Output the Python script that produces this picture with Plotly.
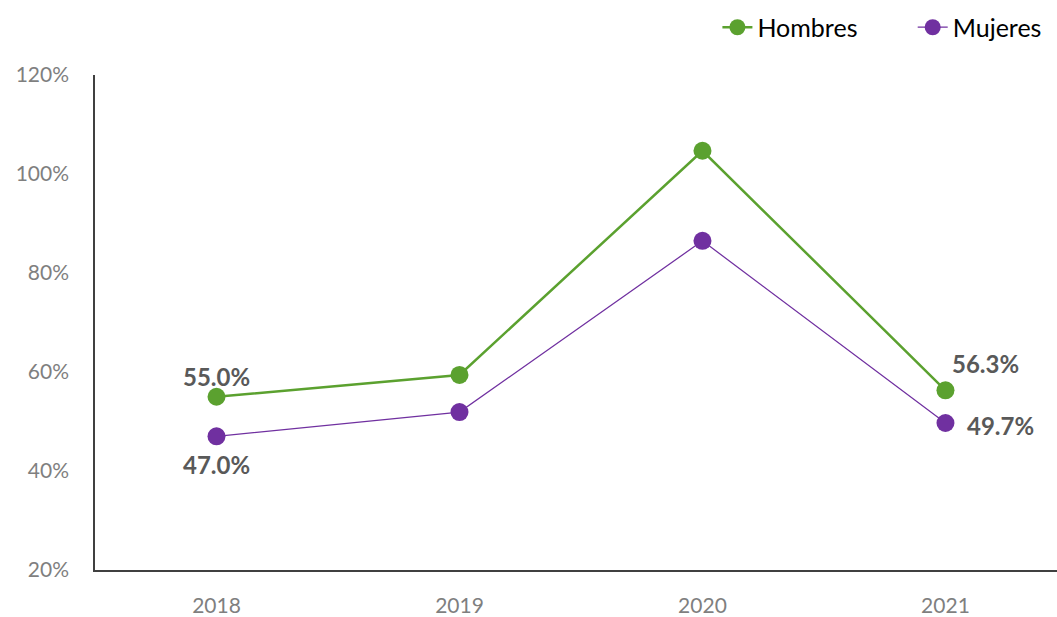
import plotly.graph_objects as go

# Series data
years = ["2018", "2019", "2020", "2021"]
hombres = [55.0, 59.4, 104.7, 56.3]
mujeres = [47.0, 51.9, 86.5, 49.7]
y_ticks = [20, 40, 60, 80, 100, 120]
y_tick_labels = ["20%", "40%", "60%", "80%", "100%", "120%"]

GREEN = "#5BA12F"
PURPLE = "#7030A0"
LABEL_GREY = "#595959"
TICK_GREY = "#7F7F7F"
FONT = "Lato"

fig = go.Figure()
fig.add_trace(go.Scatter(
    x=years, y=hombres, name="Hombres", mode="lines+markers",
    line=dict(color=GREEN, width=2.5),
    marker=dict(color=GREEN, size=18),
    legend="legend",
))
fig.add_trace(go.Scatter(
    x=years, y=mujeres, name="Mujeres", mode="lines+markers",
    line=dict(color=PURPLE, width=1.25),
    marker=dict(color=PURPLE, size=18),
    legend="legend2",
))

# Value labels on the first and last points (x given as category index)
label_font = dict(family=FONT, size=24, color=LABEL_GREY)
first, last = 0, len(years) - 1
labels = [
    (first, hombres[first], 0, 20),
    (first, mujeres[first], 0, -28),
    (last, hombres[last], 40, 27),
    (last, mujeres[last], 55, -3),
]
for xi, v, dx, dy in labels:
    fig.add_annotation(
        x=xi, y=v, xref="x", yref="y", text=f"<b>{v:.1f}%</b>",
        showarrow=False, xshift=dx, yshift=dy, font=label_font,
    )

legend_style = dict(
    orientation="h", yanchor="middle", y=1.096, xanchor="left",
    font=dict(family=FONT, size=25, color="#000000"),
    bgcolor="rgba(0,0,0,0)",
)

fig.update_layout(
    width=1057, height=617,
    margin=dict(l=95, r=0, t=75, b=44),
    plot_bgcolor="white", paper_bgcolor="white",
    font=dict(family=FONT),
    showlegend=True,
    legend=dict(x=0.647, **legend_style),
    legend2=dict(x=0.850, **legend_style),
    xaxis=dict(
        type="category", range=[-0.5, 3.459],
        showgrid=False, zeroline=False,
        showline=True, linecolor="#404040", linewidth=1.5,
        ticks="", tickfont=dict(family=FONT, size=21, color=TICK_GREY),
        ticklabelstandoff=16,
    ),
    yaxis=dict(
        range=[20, 120], tickvals=y_ticks, ticktext=y_tick_labels,
        showgrid=False, zeroline=False,
        showline=True, linecolor="#404040", linewidth=1.5,
        ticks="", tickfont=dict(family=FONT, size=21, color=TICK_GREY),
        ticklabelstandoff=20,
    ),
)

fig.write_html("out.html")
